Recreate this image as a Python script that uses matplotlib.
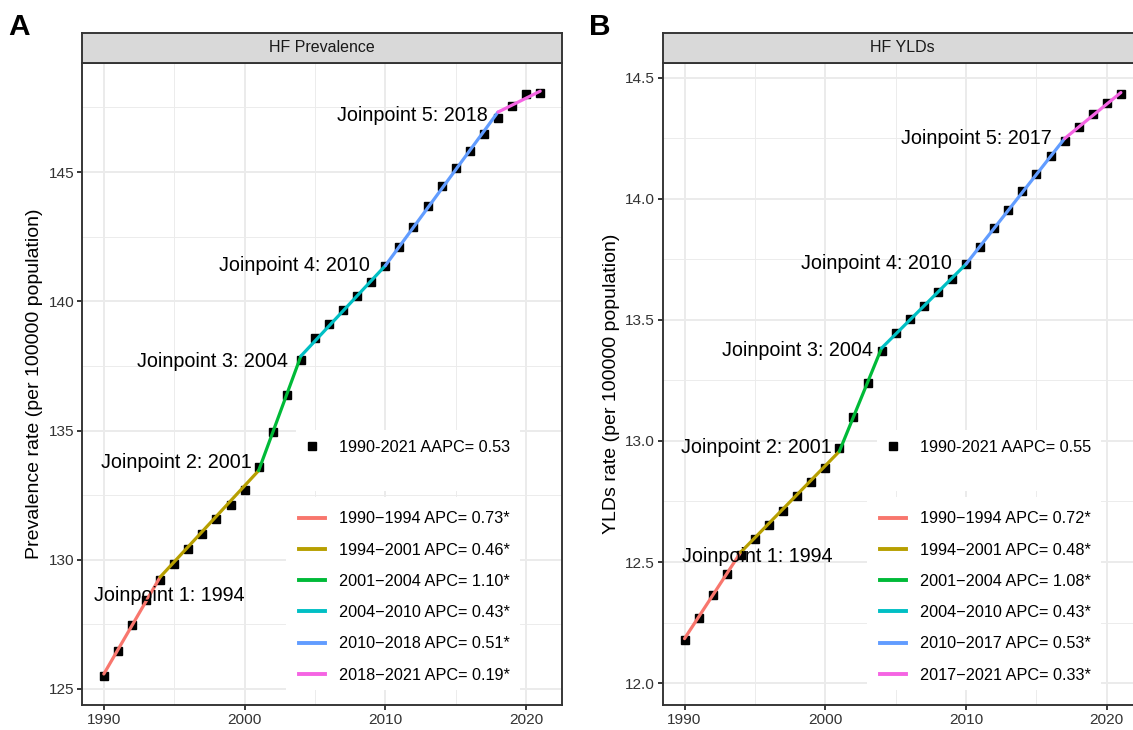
import matplotlib
matplotlib.use('Agg')
import matplotlib.pyplot as plt
from matplotlib.lines import Line2D
from matplotlib.patches import Rectangle
from matplotlib.ticker import MultipleLocator, FormatStrFormatter

plt.rcParams['font.family'] = ['Liberation Sans', 'DejaVu Sans']

# данные
years = list(range(1990, 2022))

prev_obs = [125.51, 126.48, 127.49, 128.46, 129.23, 129.84, 130.42, 131.01,
            131.58, 132.13, 132.71, 133.60, 134.96, 136.39, 137.71, 138.58,
            139.13, 139.68, 140.22, 140.76, 141.38, 142.09, 142.89, 143.69,
            144.48, 145.15, 145.83, 146.49, 147.11, 147.57, 148.03, 148.05]
prev_joint_years = [1990, 1994, 2001, 2004, 2010, 2018, 2021]
prev_fit = [125.58, 129.33, 133.45, 137.88, 141.38, 147.32, 148.13]
prev_apc = ['0.73*', '0.46*', '1.10*', '0.43*', '0.51*', '0.19*']
prev_aapc = '0.53'

yld_obs = [12.178, 12.269, 12.363, 12.449, 12.530, 12.597, 12.655, 12.710,
           12.772, 12.829, 12.889, 12.971, 13.099, 13.239, 13.372, 13.447,
           13.502, 13.557, 13.616, 13.668, 13.729, 13.801, 13.877, 13.953,
           14.031, 14.103, 14.177, 14.239, 14.294, 14.349, 14.395, 14.434]
yld_joint_years = [1990, 1994, 2001, 2004, 2010, 2017, 2021]
yld_fit = [12.184, 12.541, 12.957, 13.383, 13.730, 14.248, 14.438]
yld_apc = ['0.72*', '0.48*', '1.08*', '0.43*', '0.53*', '0.33*']
yld_aapc = '0.55'

colors = ['#F8766D', '#B79F00', '#00BA38', '#00BFC4', '#619CFF', '#F564E3']

# размеры в пикселях
W, H = 1133, 730
AX_W, AX_TOP, AX_BOT = 480, 63, 705
AX_H = AX_BOT - AX_TOP

fig = plt.figure(figsize=(W / 100, H / 100), dpi=100)


def fbox(l, t, r, b):
    return [l / W, 1 - b / H, (r - l) / W, (b - t) / H]


def draw_panel(left, letter, title, obs, jyears, fit, apc, aapc, ylim, ystep,
               yfmt, ylabel, lab_x, lab_y):
    ax = fig.add_axes(fbox(left, AX_TOP, left + AX_W, AX_BOT))
    ax.set_xlim(1988.45, 2022.55)
    ax.set_ylim(*ylim)
    ax.xaxis.set_major_locator(MultipleLocator(10))
    ax.xaxis.set_minor_locator(MultipleLocator(5))
    ax.yaxis.set_major_locator(MultipleLocator(ystep))
    ax.yaxis.set_minor_locator(MultipleLocator(ystep / 2))
    ax.yaxis.set_major_formatter(FormatStrFormatter(yfmt))
    ax.grid(which='major', color='#EBEBEB', lw=1.37)
    ax.grid(which='minor', color='#EBEBEB', lw=0.68)
    ax.set_axisbelow(True)
    ax.tick_params(which='minor', length=0)
    ax.tick_params(which='major', length=3.5, width=1.37, color='#333333',
                   labelsize=11.1, labelcolor='#333333', pad=2)
    for s in ax.spines.values():
        s.set_color('#333333')
        s.set_linewidth(1.37)
    ax.set_ylabel(ylabel, fontsize=14, labelpad=4)

    # белые подложки легенд
    def bg(x0, y0, x1, y1):
        ax.add_patch(Rectangle((x0 / AX_W, 1 - y1 / AX_H), (x1 - x0) / AX_W,
                               (y1 - y0) / AX_H, transform=ax.transAxes,
                               facecolor='white', edgecolor='none', zorder=1.5))
    bg(214, 367, 438, 428)
    bg(204, 434, 438, 627)

    ax.plot(years, obs, ls='none', marker='s', ms=5.8, color='black', zorder=3)
    handles = []
    for i in range(len(jyears) - 1):
        ax.plot(jyears[i:i + 2], fit[i:i + 2], color=colors[i], lw=2.3,
                zorder=4, solid_capstyle='round')
        lbl = f'{jyears[i]}\u2212{jyears[i + 1]} APC= {apc[i]}'
        handles.append(Line2D([], [], color=colors[i], lw=2.8, label=lbl))

    for k in range(1, len(jyears) - 1):
        ax.text(lab_x[k - 1], lab_y[k - 1], f'Joinpoint {k}: {jyears[k]}',
                ha='right', va='center', fontsize=14.2, color='black', zorder=5)

    # легенда AAPC
    sq = Line2D([], [], ls='none', marker='s', ms=5.5, color='black',
                label=f'{jyears[0]}-{jyears[-1]} AAPC= {aapc}')
    leg1 = ax.legend(handles=[sq], loc='upper left', frameon=False,
                     bbox_to_anchor=(222.2 / AX_W, 1 - 377 / AX_H),
                     borderpad=0, borderaxespad=0, handlelength=1.0,
                     handletextpad=1.13, fontsize=11.7)
    ax.add_artist(leg1)
    ax.legend(handles=handles, loc='upper left', frameon=False,
              bbox_to_anchor=(217 / AX_W, 1 - 448.3 / AX_H),
              borderpad=0, borderaxespad=0, handlelength=1.61,
              handletextpad=0.855, labelspacing=1.0, fontsize=11.7)

    # полоска с заголовком
    st = fig.add_axes(fbox(left, 32.5, left + AX_W, AX_TOP))
    st.set_facecolor('#D9D9D9')
    st.set_xticks([])
    st.set_yticks([])
    for s in st.spines.values():
        s.set_color('#333333')
        s.set_linewidth(1.37)
    st.text(0.5, 0.5, title, ha='center', va='center', fontsize=11.5,
            color='#1A1A1A', transform=st.transAxes)

    fig.text((left - 74) / W, 1 - 35 / H, letter, fontsize=21.5,
             fontweight='bold', ha='left', va='baseline')
    return ax


draw_panel(82, 'A', 'HF Prevalence', prev_obs, prev_joint_years, prev_fit,
           prev_apc, prev_aapc, (124.38, 149.22), 5, '%d',
           'Prevalence rate (per 100000 population)',
           [2000.0, 2000.5, 2003.1, 2008.9, 2017.25],
           [128.6, 133.75, 137.66, 141.38, 147.17])

draw_panel(662.7, 'B', 'HF YLDs', yld_obs, yld_joint_years, yld_fit,
           yld_apc, yld_aapc, (11.91, 14.56), 0.5, '%.1f',
           'YLDs rate (per 100000 population)',
           [2000.54, 2000.47, 2003.4, 2009.0, 2016.1],
           [12.524, 12.971, 13.373, 13.733, 14.248])

fig.savefig('out.png', dpi=100)
